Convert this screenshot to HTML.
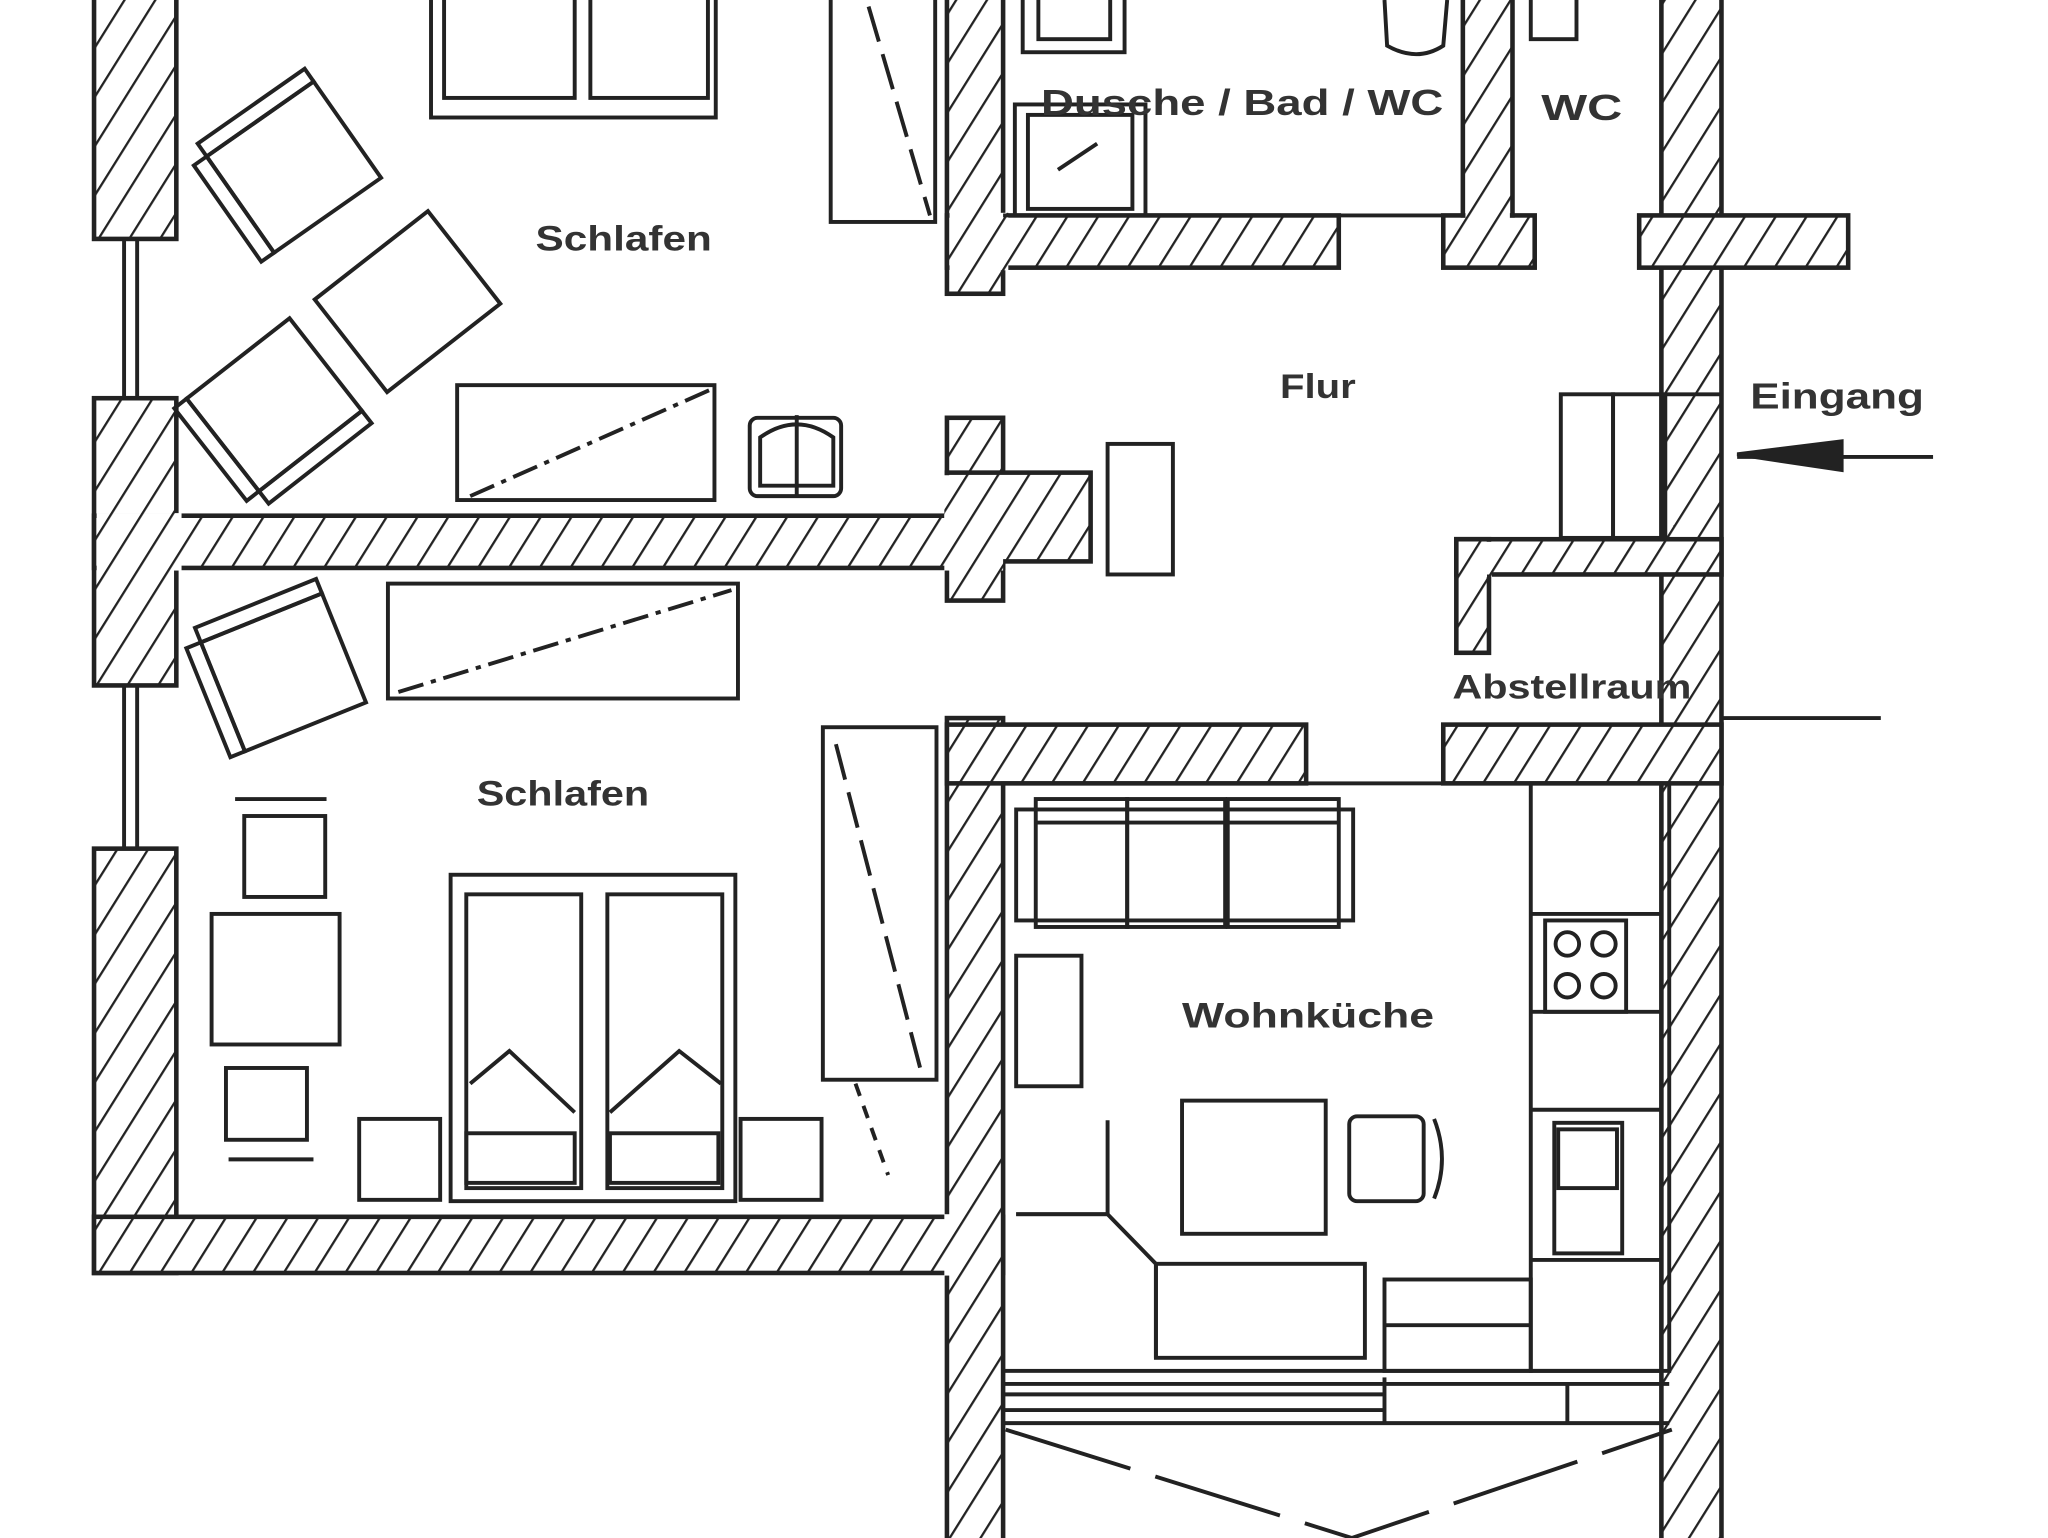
<!DOCTYPE html>
<html><head><meta charset="utf-8"><style>
html,body{margin:0;padding:0;background:#fff;}
svg{display:block;}
text{font-family:"Liberation Sans",sans-serif;font-weight:bold;fill:#333;}
</style></head><body>
<svg width="2048" height="1538" viewBox="0 0 1568 1178" preserveAspectRatio="none" xmlns="http://www.w3.org/2000/svg">
<defs>
<pattern id="h" width="20" height="20" patternUnits="userSpaceOnUse" patternTransform="rotate(32)">
<rect x="-1" y="-1" width="22" height="22" fill="#fff"/>
<line x1="0" y1="0" x2="0" y2="20" stroke="#222" stroke-width="3.5"/>
</pattern>
</defs>
<rect width="1568" height="1178" fill="#fff"/>
<g stroke="#222" stroke-width="3.5" fill="url(#h)">
<rect x="72" y="-5" width="63" height="188"/>
<rect x="72" y="305" width="63" height="220"/>
<rect x="72" y="650" width="63" height="325"/>
<rect x="72" y="932" width="696" height="43"/>
<rect x="72" y="395" width="696" height="40"/>
<rect x="725" y="-5" width="43" height="230"/>
<rect x="725" y="320" width="43" height="140"/>
<rect x="725" y="550" width="43" height="633"/>
<rect x="725" y="362" width="110" height="68"/>
<rect x="1272" y="-5" width="46" height="1188"/>
<rect x="725" y="165" width="300" height="40"/>
<rect x="1105" y="165" width="70" height="40"/>
<rect x="1255" y="165" width="160" height="40"/>
<rect x="1120" y="-5" width="38" height="170"/>
<rect x="725" y="555" width="275" height="45"/>
<rect x="1105" y="555" width="213" height="45"/>
<rect x="1115" y="413" width="203" height="27"/>
<rect x="1115" y="413" width="25" height="87"/>
</g>
<!-- junction overlays to hide internal lines -->
<g fill="url(#h)" stroke="none">
<rect x="74" y="393" width="65" height="44"/>
<rect x="723" y="364" width="47" height="64"/>
<rect x="723" y="393" width="45" height="44"/>
<rect x="723" y="930" width="43" height="47"/>
<rect x="727" y="163" width="45" height="44"/>
<rect x="1257" y="167" width="156" height="36"/>
<rect x="1270" y="415" width="46" height="23"/>
<rect x="1270" y="557" width="46" height="41"/>
<rect x="727" y="557" width="45" height="41"/>
<rect x="1117" y="415" width="25" height="27"/>
<rect x="1122" y="160" width="34" height="8"/>
</g>
<g stroke="#222" stroke-width="3" fill="none">
<line x1="95" y1="183" x2="95" y2="305"/><line x1="105" y1="183" x2="105" y2="305"/>
<line x1="95" y1="525" x2="95" y2="650"/><line x1="105" y1="525" x2="105" y2="650"/>
<line x1="1318" y1="550" x2="1440" y2="550"/>
<line x1="1330" y1="350" x2="1480" y2="350"/>
<polygon points="1330,348 1410,338 1410,360" fill="#222"/>
<rect x="330" y="-5" width="218" height="95"/>
<rect x="340" y="-5" width="100" height="80"/><rect x="452" y="-5" width="90" height="80"/>
<rect x="636" y="-5" width="80" height="175"/>
<line x1="665" y1="5" x2="712" y2="165" stroke-dasharray="28,10"/>
<g transform="translate(225,128) rotate(-35)"><rect x="-50" y="-45" width="100" height="90"/><rect x="-62" y="-45" width="12" height="90"/><rect x="-50" y="-57" width="100" height="12"/></g>
<rect x="-55" y="-45" width="110" height="90" transform="translate(312,231) rotate(-38)"/>
<g transform="translate(210,310) rotate(-38)"><rect x="-50" y="-45" width="100" height="90"/><rect x="-62" y="-45" width="12" height="90"/><rect x="-50" y="45" width="100" height="12"/></g>
<rect x="350" y="295" width="197" height="88"/>
<line x1="360" y1="380" x2="545" y2="298" stroke-dasharray="20,6,4,6"/>
<rect x="574" y="320" width="70" height="60" rx="6"/>
<path d="M582 372 L582 335 Q610 315 638 335 L638 372 Z"/><line x1="610" y1="318" x2="610" y2="380"/>
<rect x="297" y="447" width="268" height="88"/>
<line x1="305" y1="530" x2="560" y2="452" stroke-dasharray="20,6,4,6"/>
<g transform="translate(217,515) rotate(-22)"><rect x="-50" y="-45" width="100" height="90"/><rect x="-62" y="-45" width="12" height="90"/><rect x="-50" y="-57" width="100" height="12"/></g>
<rect x="630" y="557" width="87" height="270"/>
<line x1="640" y1="570" x2="705" y2="820" stroke-dasharray="28,10"/>
<line x1="655" y1="830" x2="680" y2="900" stroke-dasharray="10,8"/>
<rect x="187" y="625" width="62" height="62"/><line x1="180" y1="612" x2="250" y2="612"/>
<rect x="162" y="700" width="98" height="100"/>
<rect x="173" y="818" width="62" height="55"/><line x1="175" y1="888" x2="240" y2="888"/>
<rect x="275" y="857" width="62" height="62"/>
<rect x="345" y="670" width="218" height="250"/>
<rect x="357" y="685" width="88" height="225"/><rect x="465" y="685" width="88" height="225"/>
<rect x="357" y="868" width="83" height="38"/><rect x="467" y="868" width="83" height="38"/>
<polyline points="360,830 390,805 440,852"/><polyline points="467,852 520,805 552,830"/>
<rect x="567" y="857" width="62" height="62"/>
<rect x="783" y="-5" width="78" height="45"/><rect x="795" y="-5" width="55" height="35"/>
<rect x="777" y="80" width="100" height="85"/><rect x="787" y="88" width="80" height="72"/>
<line x1="810" y1="130" x2="840" y2="110"/>
<path d="M1060 0 L1062 35 Q1085 48 1105 35 L1108 0"/>
<rect x="1172" y="-5" width="35" height="35"/>
<line x1="768" y1="165" x2="1120" y2="165"/>
<rect x="848" y="340" width="50" height="100"/>
<rect x="1195" y="302" width="40" height="110"/><rect x="1235" y="302" width="40" height="110"/>
<line x1="1275" y1="302" x2="1318" y2="302"/>
<line x1="1140" y1="440" x2="1140" y2="500"/>
<rect x="768" y="600" width="510" height="450"/>
<rect x="778" y="620" width="258" height="85"/>
<rect x="793" y="612" width="70" height="98"/><rect x="863" y="612" width="75" height="98"/><rect x="940" y="612" width="85" height="98"/>
<line x1="793" y1="630" x2="1025" y2="630"/>
<rect x="778" y="732" width="50" height="100"/>
<rect x="1172" y="600" width="100" height="450"/>
<line x1="1172" y1="700" x2="1272" y2="700"/><line x1="1172" y1="775" x2="1272" y2="775"/>
<line x1="1172" y1="850" x2="1272" y2="850"/><line x1="1172" y1="965" x2="1272" y2="965"/>
<rect x="1183" y="705" width="62" height="70"/>
<circle cx="1200" cy="723" r="9"/><circle cx="1228" cy="723" r="9"/><circle cx="1200" cy="755" r="9"/><circle cx="1228" cy="755" r="9"/>
<rect x="1190" y="860" width="52" height="100"/><rect x="1193" y="865" width="45" height="45"/>
<rect x="905" y="843" width="110" height="102"/>
<rect x="1033" y="855" width="57" height="65" rx="6"/><path d="M1098 857 Q1110 888 1098 918"/>
<polyline points="778,930 848,930 848,858"/>
<polyline points="778,930 848,930 885,968 885,1040"/>
<rect x="885" y="968" width="160" height="72"/>
<rect x="1060" y="980" width="112" height="70"/><line x1="1060" y1="1015" x2="1172" y2="1015"/>
<line x1="768" y1="1060" x2="1278" y2="1060"/>
<line x1="768" y1="1068" x2="1060" y2="1068"/>
<line x1="768" y1="1080" x2="1060" y2="1080"/>
<line x1="768" y1="1090" x2="1278" y2="1090"/>
<line x1="1060" y1="1055" x2="1060" y2="1090"/><line x1="1200" y1="1060" x2="1200" y2="1090"/>
<polyline points="770,1095 1035,1178 1280,1095" stroke-dasharray="100,20"/>
</g>
<text x="410" y="192" font-size="27" textLength="135" lengthAdjust="spacingAndGlyphs">Schlafen</text>
<text x="365" y="617" font-size="27" textLength="132" lengthAdjust="spacingAndGlyphs">Schlafen</text>
<text x="797" y="88" font-size="28" textLength="308" lengthAdjust="spacingAndGlyphs">Dusche / Bad / WC</text>
<text x="1180" y="92" font-size="28" textLength="62" lengthAdjust="spacingAndGlyphs">WC</text>
<text x="980" y="305" font-size="26" textLength="58" lengthAdjust="spacingAndGlyphs">Flur</text>
<text x="1340" y="313" font-size="28" textLength="133" lengthAdjust="spacingAndGlyphs">Eingang</text>
<text x="1112" y="535" font-size="26" textLength="183" lengthAdjust="spacingAndGlyphs">Abstellraum</text>
<text x="905" y="787" font-size="27" textLength="193" lengthAdjust="spacingAndGlyphs">Wohnküche</text>
</svg>
</body></html>
